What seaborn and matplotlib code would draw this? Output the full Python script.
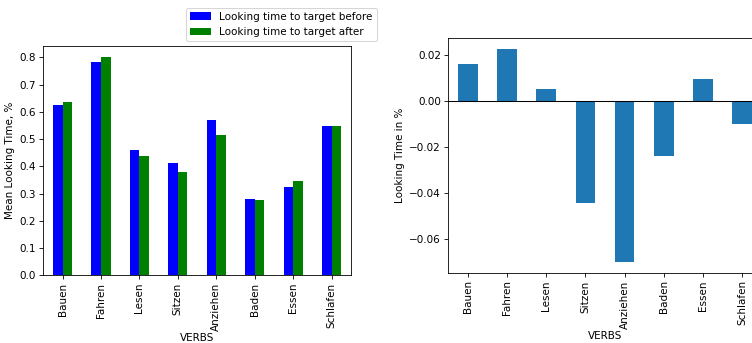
import pandas as pd
import seaborn as sns
import matplotlib.pyplot as plt

verbs = ["Bauen", "Fahren", "Lesen", "Sitzen", "Anziehen", "Baden", "Essen", "Schlafen"]
before = [0.627, 0.784, 0.461, 0.412, 0.570, 0.282, 0.325, 0.549]
after = [0.636, 0.802, 0.440, 0.378, 0.515, 0.277, 0.345, 0.549]
diff = [0.0158, 0.0226, 0.0053, -0.0445, -0.0702, -0.0242, 0.0094, -0.0099]

lab_before = "Looking time to target before"
lab_after = "Looking time to target after"

df = pd.DataFrame({
    "VERBS": verbs * 2,
    "value": before + after,
    "series": [lab_before] * len(verbs) + [lab_after] * len(verbs),
})
df_diff = pd.DataFrame({"VERBS": verbs, "diff": diff})

# reference looks like a 72 dpi figure scaled up a little
fig = plt.figure(figsize=(753 / 75, 343 / 75), dpi=75)
ax1 = fig.add_axes([0.0575, 0.197, 0.4085, 0.669])
ax2 = fig.add_axes([0.5953, 0.204, 0.4165, 0.685])

sns.barplot(data=df, x="VERBS", y="value", hue="series", palette=["blue", "green"],
            width=0.5, saturation=1, ax=ax1)
handles, labels = ax1.get_legend_handles_labels()
ax1.get_legend().remove()
ax1.legend(handles, labels, loc="lower right", bbox_to_anchor=(0.5007, 0.880),
           bbox_transform=fig.transFigure, borderaxespad=0)
ax1.set_ylabel("Mean Looking Time, %")
ax1.set_xlabel("VERBS", labelpad=2)
ax1.tick_params(axis="x", rotation=90)

sns.barplot(data=df_diff, x="VERBS", y="diff", color="#1f77b4", width=0.5,
            saturation=1, ax=ax2)
ax2.axhline(0, color="black", linewidth=1)
ax2.set_ylabel("Looking Time in %")
ax2.set_xlabel("VERBS", labelpad=2)
ax2.tick_params(axis="x", rotation=90)

fig.savefig("out.png", dpi=75)
